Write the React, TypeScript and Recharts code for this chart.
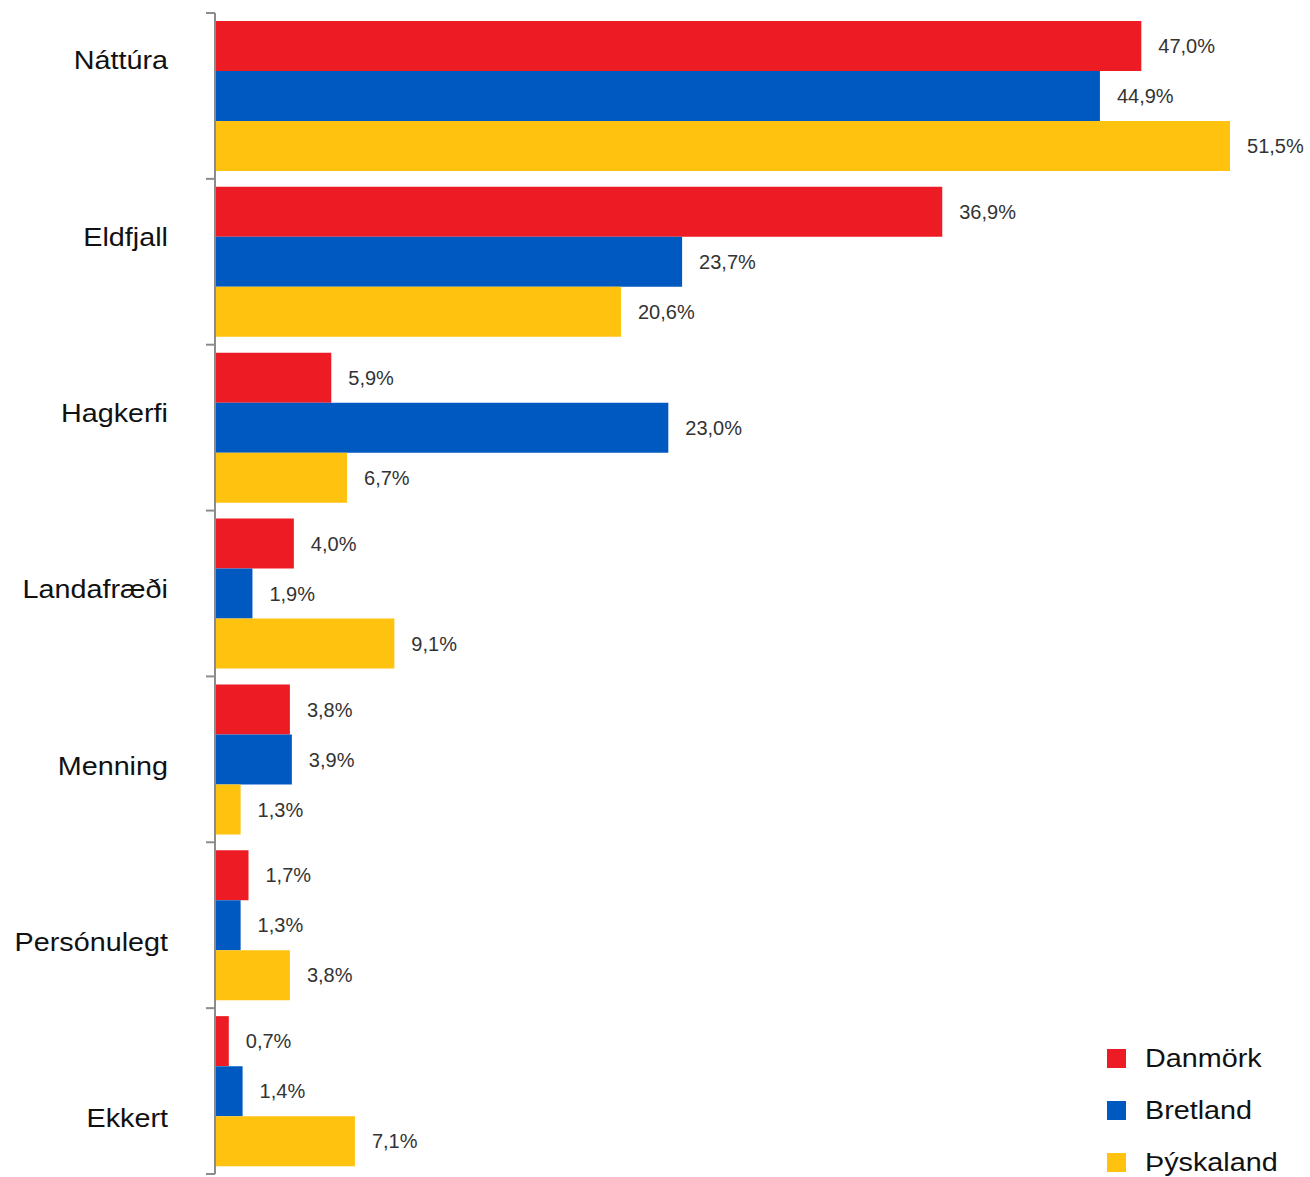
import { Bar, BarChart, LabelList, XAxis, YAxis } from "recharts";

const categories = [
  "Náttúra",
  "Eldfjall",
  "Hagkerfi",
  "Landafræði",
  "Menning",
  "Persónulegt",
  "Ekkert"
];
const danmork = [47.0, 36.9, 5.9, 4.0, 3.8, 1.7, 0.7];
const bretland = [44.9, 23.7, 23.0, 1.9, 3.9, 1.3, 1.4];
const thyskaland = [51.5, 20.6, 6.7, 9.1, 1.3, 3.8, 7.1];

const series = [
  { key: "danmork", name: "Danmörk", color: "#ED1C24" },
  { key: "bretland", name: "Bretland", color: "#0058C1" },
  { key: "thyskaland", name: "Þýskaland", color: "#FFC20E" }
];

const data = categories.map((c, i) => ({
  name: c,
  danmork: danmork[i],
  bretland: bretland[i],
  thyskaland: thyskaland[i]
}));

const W = 1310;
const H = 1177;
const M = { top: 13, right: 11, bottom: 3, left: 0 };
const AXIS_W = 215;
const TICK_GAP = 47;
const BAND = (H - M.top - M.bottom) / categories.length;

const fmt = (v: any) => Number(v).toFixed(1).replace(".", ",") + "%";

function CatTick(props: any) {
  const { x, y, payload, index } = props;
  const axisX = x + TICK_GAP;
  const dy = -3.5 + (index - 3) * 10.5;
  const last = index === categories.length - 1;
  return (
    <g>
      <line x1={axisX - 9} x2={axisX} y1={y - BAND / 2} y2={y - BAND / 2} stroke="#8c8c8c" strokeWidth={2} />
      {last && (
        <line x1={axisX - 9} x2={axisX} y1={y + BAND / 2} y2={y + BAND / 2} stroke="#8c8c8c" strokeWidth={2} />
      )}
      <text
        transform={`translate(${x},${y + dy}) scale(1.15,1)`}
        textAnchor="end"
        dominantBaseline="central"
        fontSize={25}
        fontFamily="'Liberation Sans', Arial, sans-serif"
        fill="#111"
      >
        {payload.value}
      </text>
    </g>
  );
}

export default function App() {
  return (
    <div style={{ position: "absolute", left: 0, top: 0, width: W, height: H, background: "#fff" }}>
      <BarChart
        width={W}
        height={H}
        data={data}
        layout="vertical"
        margin={M}
        barCategoryGap={8}
        barGap={0}
      >
        <XAxis type="number" domain={[0, 55]} hide />
        <YAxis
          type="category"
          dataKey="name"
          width={AXIS_W}
          axisLine={{ stroke: "#8c8c8c", strokeWidth: 2 }}
          tickLine={false}
          tickSize={0}
          tickMargin={TICK_GAP}
          tick={<CatTick />}
          interval={0}
        />
        {series.map((s) => (
          <Bar key={s.key} dataKey={s.key} fill={s.color} isAnimationActive={false}>
            <LabelList
              dataKey={s.key}
              position="right"
              offset={17}
              formatter={fmt}
              fill="#333"
              fontSize={20}
              fontFamily="'Liberation Sans Narrow', 'Liberation Sans', Arial, sans-serif"
            />
          </Bar>
        ))}
      </BarChart>
      <div
        style={{
          position: "absolute",
          left: 1107,
          top: 1032,
          fontFamily: "'Liberation Sans', Arial, sans-serif",
          fontSize: 25,
          color: "#111"
        }}
      >
        {series.map((s) => (
          <div key={s.key} style={{ display: "flex", alignItems: "center", height: 52 }}>
            <span style={{ width: 19, height: 19, background: s.color, display: "inline-block" }} />
            <span
              style={{
                marginLeft: 19,
                display: "inline-block",
                transform: "scaleX(1.15)",
                transformOrigin: "left center",
                whiteSpace: "nowrap"
              }}
            >
              {s.name}
            </span>
          </div>
        ))}
      </div>
    </div>
  );
}
